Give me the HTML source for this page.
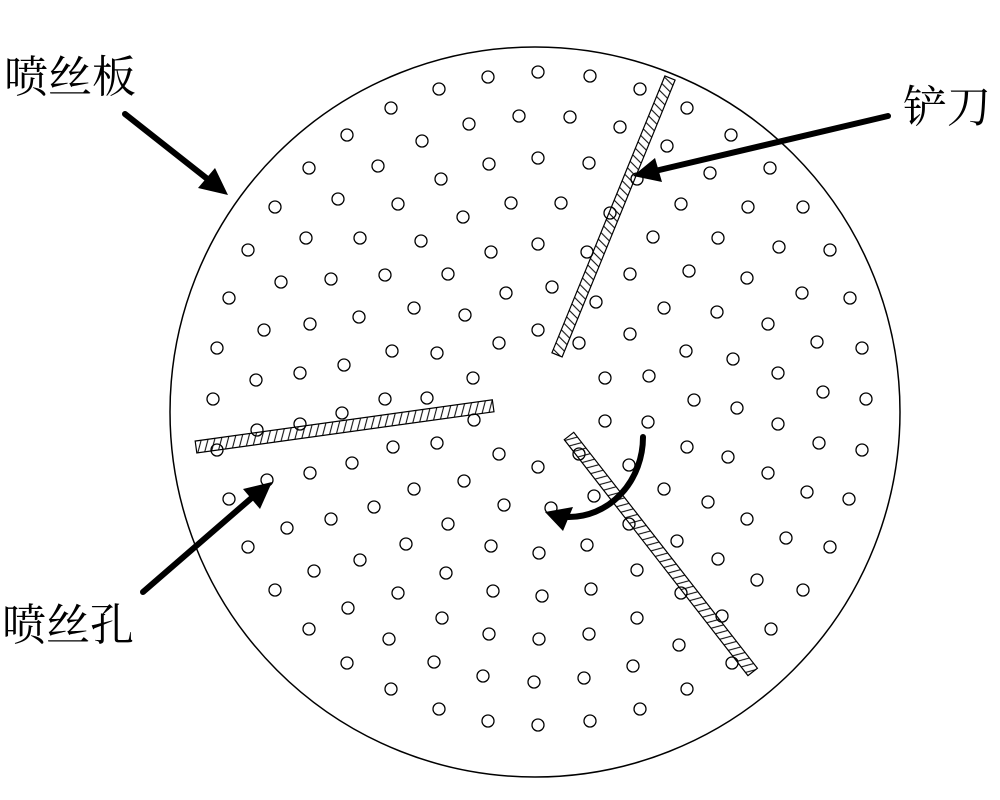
<!DOCTYPE html>
<html><head><meta charset="utf-8"><style>
html,body{margin:0;padding:0;background:#fff;}
svg{display:block;}
text{font-family:"Liberation Serif","Noto Serif CJK SC",serif;font-size:44px;fill:#000;}
</style></head><body>
<svg width="1000" height="800" viewBox="0 0 1000 800" xmlns="http://www.w3.org/2000/svg">
<defs>
<pattern id="h" patternUnits="userSpaceOnUse" width="7" height="12" y="-6">
<line x1="1" y1="12" x2="6" y2="0" stroke="#000" stroke-width="1"/>
</pattern>
</defs>
<circle cx="535" cy="412" r="365" fill="none" stroke="#000" stroke-width="1.5"/>
<g stroke="#000" stroke-width="1.2">
<rect x="0" y="-5.5" width="299" height="11" fill="url(#h)" transform="translate(670,78) rotate(112.2)"/>
<rect x="0" y="-6" width="300" height="12" fill="url(#h)" transform="translate(196,447) rotate(-7.9)"/>
<rect x="0" y="-6" width="299" height="12" fill="url(#h)" transform="translate(569,436) rotate(52.1)"/>
</g>
<g fill="none" stroke="#000" stroke-width="1.3">
<circle cx="488" cy="77" r="6"/><circle cx="538" cy="72" r="6"/><circle cx="439" cy="89" r="6"/><circle cx="391" cy="108" r="6"/>
<circle cx="519" cy="116" r="6"/><circle cx="469" cy="124" r="6"/><circle cx="347" cy="135" r="6"/><circle cx="422" cy="141" r="6"/>
<circle cx="538" cy="158" r="6"/><circle cx="489" cy="164" r="6"/><circle cx="309" cy="168" r="6"/><circle cx="378" cy="166" r="6"/>
<circle cx="441" cy="179" r="6"/><circle cx="338" cy="199" r="6"/><circle cx="398" cy="204" r="6"/><circle cx="511" cy="203" r="6"/>
<circle cx="463" cy="217" r="6"/><circle cx="275" cy="207" r="6"/><circle cx="306" cy="238" r="6"/><circle cx="360" cy="238" r="6"/>
<circle cx="421" cy="241" r="6"/><circle cx="538" cy="244" r="6"/><circle cx="491" cy="252" r="6"/><circle cx="248" cy="250" r="6"/>
<circle cx="281" cy="282" r="6"/><circle cx="331" cy="279" r="6"/><circle cx="385" cy="275" r="6"/><circle cx="448" cy="274" r="6"/>
<circle cx="506" cy="293" r="6"/><circle cx="229" cy="298" r="6"/><circle cx="264" cy="330" r="6"/><circle cx="310" cy="324" r="6"/>
<circle cx="359" cy="317" r="6"/><circle cx="414" cy="308" r="6"/><circle cx="465" cy="315" r="6"/><circle cx="538" cy="330" r="6"/>
<circle cx="217" cy="348" r="6"/><circle cx="392" cy="351" r="6"/><circle cx="437" cy="353" r="6"/><circle cx="499" cy="343" r="6"/>
<circle cx="256" cy="380" r="6"/><circle cx="300" cy="373" r="6"/><circle cx="344" cy="365" r="6"/><circle cx="473" cy="378" r="6"/>
<circle cx="213" cy="399" r="6"/><circle cx="385" cy="399" r="6"/><circle cx="427" cy="398" r="6"/><circle cx="342" cy="413" r="6"/>
<circle cx="590" cy="76" r="6"/><circle cx="640" cy="89" r="6"/><circle cx="687" cy="108" r="6"/><circle cx="570" cy="117" r="6"/>
<circle cx="620" cy="127" r="6"/><circle cx="667" cy="146" r="6"/><circle cx="731" cy="135" r="6"/><circle cx="589" cy="163" r="6"/>
<circle cx="710" cy="173" r="6"/><circle cx="770" cy="168" r="6"/><circle cx="637" cy="179" r="6"/><circle cx="561" cy="203" r="6"/>
<circle cx="610" cy="213" r="6"/><circle cx="681" cy="204" r="6"/><circle cx="748" cy="207" r="6"/><circle cx="803" cy="207" r="6"/>
<circle cx="587" cy="252" r="6"/><circle cx="653" cy="237" r="6"/><circle cx="718" cy="238" r="6"/><circle cx="779" cy="247" r="6"/>
<circle cx="830" cy="250" r="6"/><circle cx="552" cy="287" r="6"/><circle cx="630" cy="274" r="6"/><circle cx="689" cy="271" r="6"/>
<circle cx="747" cy="278" r="6"/><circle cx="802" cy="293" r="6"/><circle cx="850" cy="298" r="6"/><circle cx="596" cy="302" r="6"/>
<circle cx="664" cy="308" r="6"/><circle cx="717" cy="312" r="6"/><circle cx="768" cy="324" r="6"/><circle cx="579" cy="343" r="6"/>
<circle cx="630" cy="334" r="6"/><circle cx="686" cy="351" r="6"/><circle cx="733" cy="359" r="6"/><circle cx="817" cy="342" r="6"/>
<circle cx="862" cy="348" r="6"/><circle cx="605" cy="378" r="6"/><circle cx="649" cy="376" r="6"/><circle cx="694" cy="400" r="6"/>
<circle cx="737" cy="408" r="6"/><circle cx="778" cy="373" r="6"/><circle cx="823" cy="392" r="6"/><circle cx="866" cy="399" r="6"/>
<circle cx="257" cy="430" r="6"/><circle cx="300" cy="424" r="6"/><circle cx="217" cy="450" r="6"/><circle cx="474" cy="420" r="6"/>
<circle cx="393" cy="447" r="6"/><circle cx="437" cy="443" r="6"/><circle cx="499" cy="454" r="6"/><circle cx="538" cy="467" r="6"/>
<circle cx="267" cy="480" r="6"/><circle cx="310" cy="473" r="6"/><circle cx="352" cy="463" r="6"/><circle cx="414" cy="489" r="6"/>
<circle cx="464" cy="481" r="6"/><circle cx="229" cy="499" r="6"/><circle cx="287" cy="528" r="6"/><circle cx="331" cy="519" r="6"/>
<circle cx="374" cy="507" r="6"/><circle cx="504" cy="505" r="6"/><circle cx="448" cy="524" r="6"/><circle cx="248" cy="547" r="6"/>
<circle cx="314" cy="571" r="6"/><circle cx="360" cy="560" r="6"/><circle cx="406" cy="544" r="6"/><circle cx="491" cy="546" r="6"/>
<circle cx="539" cy="553" r="6"/><circle cx="446" cy="573" r="6"/><circle cx="275" cy="590" r="6"/><circle cx="348" cy="608" r="6"/>
<circle cx="398" cy="593" r="6"/><circle cx="493" cy="591" r="6"/><circle cx="542" cy="596" r="6"/><circle cx="309" cy="629" r="6"/>
<circle cx="389" cy="639" r="6"/><circle cx="442" cy="618" r="6"/><circle cx="489" cy="634" r="6"/><circle cx="539" cy="639" r="6"/>
<circle cx="347" cy="663" r="6"/><circle cx="434" cy="662" r="6"/><circle cx="483" cy="676" r="6"/><circle cx="534" cy="682" r="6"/>
<circle cx="391" cy="689" r="6"/><circle cx="439" cy="709" r="6"/><circle cx="488" cy="721" r="6"/><circle cx="538" cy="725" r="6"/>
<circle cx="605" cy="421" r="6"/><circle cx="648" cy="422" r="6"/><circle cx="778" cy="424" r="6"/><circle cx="819" cy="443" r="6"/>
<circle cx="862" cy="450" r="6"/><circle cx="687" cy="447" r="6"/><circle cx="728" cy="457" r="6"/><circle cx="579" cy="454" r="6"/>
<circle cx="629" cy="465" r="6"/><circle cx="768" cy="473" r="6"/><circle cx="664" cy="489" r="6"/><circle cx="594" cy="496" r="6"/>
<circle cx="708" cy="502" r="6"/><circle cx="807" cy="492" r="6"/><circle cx="849" cy="499" r="6"/><circle cx="551" cy="508" r="6"/>
<circle cx="747" cy="519" r="6"/><circle cx="629" cy="524" r="6"/><circle cx="587" cy="545" r="6"/><circle cx="677" cy="541" r="6"/>
<circle cx="718" cy="559" r="6"/><circle cx="786" cy="538" r="6"/><circle cx="830" cy="547" r="6"/><circle cx="637" cy="570" r="6"/>
<circle cx="757" cy="580" r="6"/><circle cx="803" cy="590" r="6"/><circle cx="591" cy="589" r="6"/><circle cx="681" cy="593" r="6"/>
<circle cx="637" cy="618" r="6"/><circle cx="722" cy="616" r="6"/><circle cx="771" cy="629" r="6"/><circle cx="589" cy="634" r="6"/>
<circle cx="679" cy="645" r="6"/><circle cx="633" cy="666" r="6"/><circle cx="732" cy="663" r="6"/><circle cx="584" cy="678" r="6"/>
<circle cx="687" cy="689" r="6"/><circle cx="640" cy="709" r="6"/><circle cx="590" cy="721" r="6"/>
</g>
<g stroke="#000" stroke-width="6" stroke-linecap="round" fill="none">
<line x1="125" y1="114" x2="210" y2="181"/>
<line x1="888" y1="116" x2="655" y2="171"/>
<line x1="143" y1="592" x2="255" y2="495"/>
<path d="M643,437 A74 80 0 0 1 568,517"/>
</g>
<g fill="#000">
<polygon points="228,195 198,188 215,168"/>
<polygon points="633,176 662,182 655,158"/>
<polygon points="272,482 243,489 260,509"/>
<polygon points="545,512 573,507 563,531"/>
</g>
<text x="4" y="92">喷丝板</text>
<text x="903" y="122">铲刀</text>
<text x="2" y="640">喷丝孔</text>
</svg>
</body></html>
